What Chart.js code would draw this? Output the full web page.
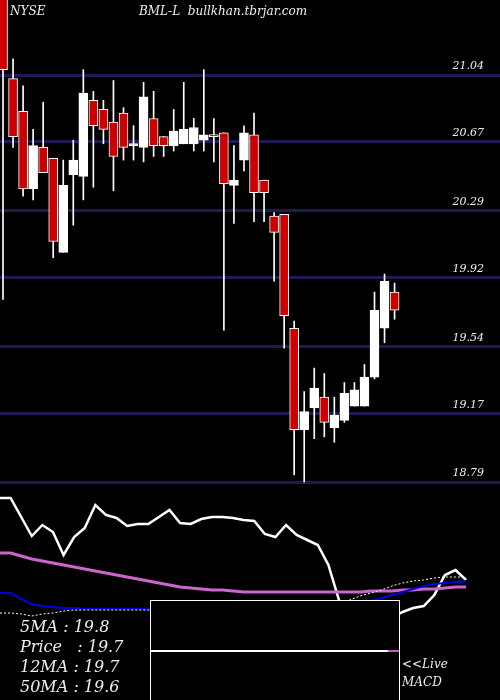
<!DOCTYPE html>
<html>
<head>
<meta charset="utf-8">
<script src="https://cdn.jsdelivr.net/npm/chart.js@4"></script>
<style>
body { margin:0; background:#000; width:500px; height:700px; overflow:hidden; position:relative; font-family:"DejaVu Serif","Liberation Serif",serif; font-style:italic; color:#eee; }
#price { position:absolute; left:0; top:0; }
#macd { position:absolute; left:0; top:490px; }
.t { position:absolute; font-size:12px; }
.leg { position:absolute; left:20px; font-size:16px; color:#eee; }
#box { position:absolute; left:150px; top:600px; width:248px; height:100px; border:1px solid #fff; border-bottom:none; background:#000; }
#box .w { position:absolute; left:0; top:49px; width:237px; height:2px; background:#fff; }
#box .m { position:absolute; left:237px; top:49px; width:11px; height:2px; background:#c060c0; }
</style>
</head>
<body>
<canvas id="price" width="500" height="490"></canvas>
<canvas id="macd" width="500" height="210"></canvas>
<div class="t" style="left:10px;top:4px;">NYSE</div>
<div class="t" style="left:139px;top:4px;">BML-L&nbsp; bullkhan.tbrjar.com</div>
<div id="box"><div class="w"></div><div class="m"></div></div>
<div class="leg" style="top:617px;">5MA : 19.8</div>
<div class="leg" style="top:637px;">Price &nbsp;&nbsp;: 19.7</div>
<div class="leg" style="top:657px;">12MA : 19.7</div>
<div class="leg" style="top:677px;">50MA : 19.6</div>
<div class="t" style="left:402px;top:657px;">&lt;&lt;Live</div>
<div class="t" style="left:402px;top:675px;">MACD</div>
<script>
var opens  = [21.50,21.02,20.84,20.41,20.64,20.58,20.06,20.49,20.48,20.90,20.85,20.78,20.83,20.65,20.64,20.80,20.70,20.65,20.66,20.66,20.68,20.71,20.72,20.43,20.57,20.71,20.46,20.26,20.27,19.64,19.08,19.20,19.26,19.09,19.13,19.21,19.21,19.37,19.64,19.84];
var highs  = [21.50,21.13,20.98,20.74,20.89,20.58,20.57,20.68,21.07,20.95,20.90,21.01,20.86,20.76,21.00,20.95,20.70,20.85,21.00,20.80,21.07,20.80,20.72,20.65,20.76,20.83,20.46,20.28,20.27,19.68,19.29,19.42,19.39,19.26,19.34,19.34,19.44,19.84,19.94,19.89];
var lows   = [19.80,20.64,20.37,20.35,20.50,20.03,20.06,20.21,20.35,20.42,20.66,20.40,20.57,20.57,20.56,20.59,20.59,20.62,20.66,20.62,20.62,20.56,19.63,20.22,20.51,20.23,20.23,19.90,19.53,18.83,18.79,19.03,19.04,19.01,19.12,19.21,19.21,19.36,19.56,19.69];
var closes = [21.07,20.70,20.41,20.65,20.50,20.12,20.43,20.57,20.94,20.76,20.74,20.59,20.64,20.65,20.92,20.65,20.65,20.73,20.74,20.75,20.71,20.70,20.44,20.46,20.72,20.39,20.39,20.17,19.71,19.08,19.18,19.31,19.12,19.16,19.28,19.30,19.37,19.74,19.90,19.74];
var priceTicks = [21.04,20.67,20.29,19.92,19.54,19.17,18.79];

// lower panel levels (higher = further up)
var macdLine   = [202,202,183,164,175,168,145,163,172,195,185,182,174,176,176,183,190,177,176,181,183,183,182,180,179,166,163,175,165,160,155,135,100,75,65,70,75,82,88,92,94,105,125,130,120];
var signalLine = [147,147,144,141,139,137,135,133,131,129,127,125,123,121,119,117,115,113,112,111,110,110,109,108,108,108,108,108,108,108,108,108,108,108,108,109,109,109,110,110,111,111,112,113,113];
var slowLine   = [107,107,101,96,94,93,92,92,91,91,91,91,91,91,91,91,91,91,91,91,91,91,91,91,91,91,91,91,91,91,91,91,91,92,96,99,102,105,108,111,114,116,117,118,119];
var histLine   = [87,87,86,84,86,87,89,90,90,90,90,90,90,90,90,90,90,90,90,90,90,90,90,90,90,90,90,90,90,90,90,90,95,100,104,107,110,114,117,119,120,122,123,123,123];

var bodies = closes.map(function (c, i) { return {x: i, y: [Math.min(opens[i], c), Math.max(opens[i], c)]}; });
var wicks = closes.map(function (c, i) { return {x: i, y: [lows[i], highs[i]]}; });
var up = closes.map(function (c, i) { return c >= opens[i]; });

// price labels sit just above their grid lines at the right
var tickLabels = {
    id: 'tickLabels',
    afterDraw: function (chart) {
        var c = chart.ctx, y = chart.scales.y;
        c.save();
        c.fillStyle = '#eeeeee';
        c.font = 'italic 11px "DejaVu Serif"';
        c.textAlign = 'right';
        c.textBaseline = 'bottom';
        priceTicks.forEach(function (v) { c.fillText(v.toFixed(2), 484, y.getPixelForValue(v) - 3); });
        c.restore();
    }
};

new Chart(document.getElementById('price'), {
    type: 'bar',
    data: {
        datasets: [{
            data: bodies,
            backgroundColor: up.map(function (u) { return u ? '#ffffff' : '#cc0000'; }),
            borderColor: '#ffffff',
            borderWidth: 1,
            borderSkipped: false,
            barThickness: 9,
            minBarLength: 2,
            grouped: false,
            order: 1
        }, {
            data: wicks,
            backgroundColor: '#ffffff',
            barThickness: 1,
            grouped: false,
            order: 2
        }]
    },
    options: {
        responsive: false,
        animation: false,
        plugins: { legend: { display: false }, tooltip: { enabled: false } },
        layout: { padding: 0 },
        scales: {
            x: { type: 'linear', min: -0.3, max: 49.5, offset: false, display: false },
            y: {
                min: 18.746, max: 21.455,
                afterBuildTicks: function (ax) { ax.ticks = priceTicks.map(function (v) { return {value: v}; }); },
                grid: { color: '#1c1c50', lineWidth: 3, drawTicks: false },
                border: { display: false },
                ticks: { display: false }
            }
        }
    },
    plugins: [tickLabels]
});

function line(d, color, w, dash) {
    return { data: d, borderColor: color, borderWidth: w, borderDash: dash || [], pointRadius: 0, tension: 0, fill: false };
}
new Chart(document.getElementById('macd'), {
    type: 'line',
    data: {
        labels: macdLine.map(function (v, i) { return i; }),
        datasets: [
            line(histLine, '#ffffff', 1, [2, 2]),
            line(slowLine, '#0000dd', 2),
            line(signalLine, '#cc66cc', 3),
            line(macdLine, '#ffffff', 2.5)
        ]
    },
    options: {
        responsive: false,
        animation: false,
        plugins: { legend: { display: false }, tooltip: { enabled: false } },
        layout: { padding: 0 },
        scales: {
            x: { type: 'linear', min: 0, max: 47.2, display: false },
            y: { min: 0, max: 210, display: false }
        }
    }
});
</script>
</body>
</html>
